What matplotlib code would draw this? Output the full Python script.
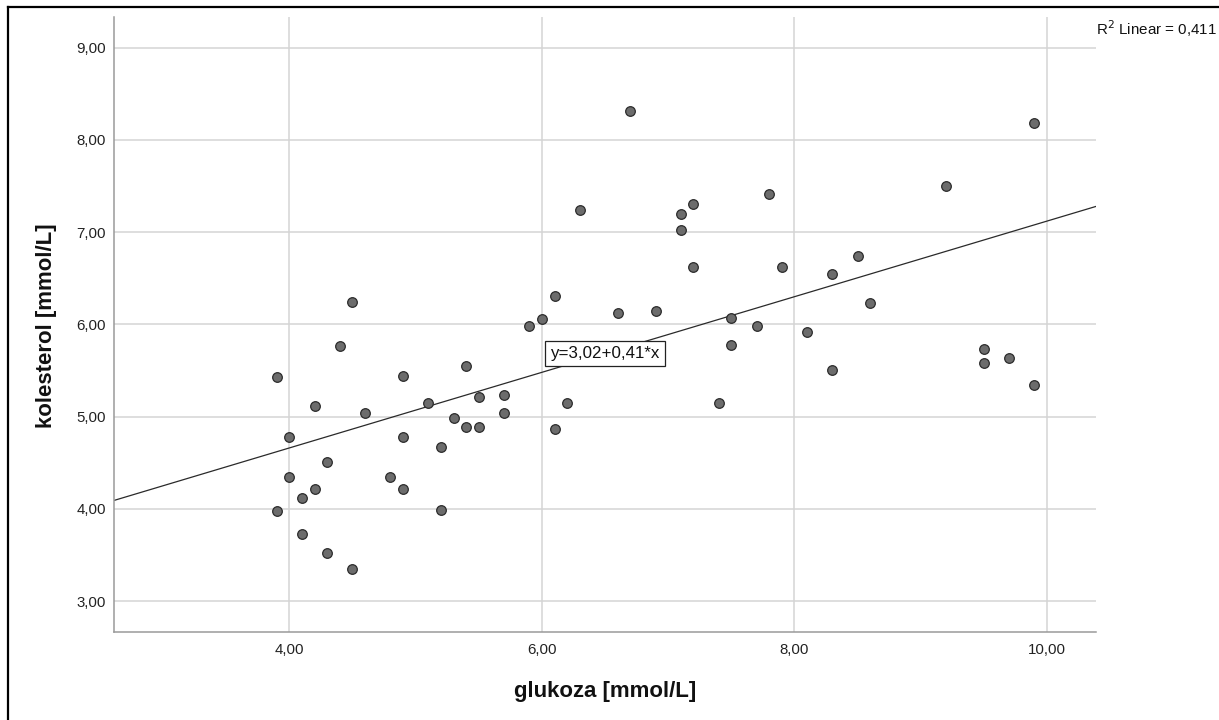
import numpy as np
import matplotlib
matplotlib.use("Agg")
import matplotlib.pyplot as plt
from matplotlib.lines import Line2D

plt.rcParams["font.family"] = ["Liberation Sans", "DejaVu Sans"]

# glukoza [mmol/L] and kolesterol [mmol/L]
glukoza = [3.9, 3.9, 4.0, 4.0, 4.1, 4.1, 4.2, 4.2, 4.3, 4.3,
           4.4, 4.5, 4.5, 4.6, 4.8, 4.9, 4.9, 4.9, 5.1, 5.2,
           5.2, 5.3, 5.4, 5.4, 5.5, 5.5, 5.7, 5.7, 5.9, 6.0,
           6.1, 6.1, 6.2, 6.3, 6.6, 6.7, 6.9, 7.1, 7.1, 7.2,
           7.2, 7.4, 7.5, 7.5, 7.7, 7.8, 7.9, 8.1, 8.3, 8.3,
           8.5, 8.6, 9.2, 9.5, 9.5, 9.7, 9.9, 9.9]
kolesterol = [5.43, 3.98, 4.78, 4.34, 4.12, 3.73, 5.11, 4.21, 4.51, 3.52,
              5.76, 6.24, 3.35, 5.04, 4.34, 5.44, 4.78, 4.21, 5.15, 4.67,
              3.99, 4.99, 5.55, 4.89, 5.21, 4.89, 5.23, 5.04, 5.98, 6.06,
              6.31, 4.87, 5.15, 7.24, 6.12, 8.31, 6.15, 7.20, 7.02, 7.31,
              6.62, 5.15, 6.07, 5.78, 5.98, 7.41, 6.62, 5.92, 6.55, 5.50,
              6.74, 6.23, 7.50, 5.73, 5.58, 5.64, 8.18, 5.34]

# linear fit reported by SPSS
intercept = 3.02
slope = 0.41
r2 = "0,411"

x_ticks = [4, 6, 8, 10]
x_tick_labels = ["4,00", "6,00", "8,00", "10,00"]
y_ticks = [3, 4, 5, 6, 7, 8, 9]
y_tick_labels = ["3,00", "4,00", "5,00", "6,00", "7,00", "8,00", "9,00"]

fig = plt.figure(figsize=(12.19, 7.2), dpi=100)
ax = fig.add_axes([0.0938, 0.1226, 0.8053, 0.8534])

xmin, xmax = 2.614, 10.388
ax.set_xlim(xmin, xmax)
ax.set_ylim(2.667, 9.33)

# Grid and axes lines
ax.grid(True, color="#d4d4d4", linewidth=1.1)
ax.set_axisbelow(True)
for side in ["top", "right"]:
    ax.spines[side].set_visible(False)
for side in ["left", "bottom"]:
    ax.spines[side].set_color("#9a9a9a")
    ax.spines[side].set_linewidth(1.1)

# Fit line
xf = np.array([xmin, xmax])
ax.plot(xf, intercept + slope * xf, color="#2a2a2a", linewidth=0.9, zorder=2)

# Points
ax.scatter(glukoza, kolesterol, s=48, facecolor="#6c6c6c", edgecolor="#2b2b2b",
           linewidth=0.9, zorder=3)

# Equation label on the line
x_eq = 6.5
ax.text(x_eq, intercept + slope * x_eq, "y=3,02+0,41*x", fontsize=12.2,
        ha="center", va="center", color="#111111", zorder=4,
        bbox=dict(boxstyle="square,pad=0.3", facecolor="white",
                  edgecolor="#222222", linewidth=0.9))

ax.set_xticks(x_ticks)
ax.set_xticklabels(x_tick_labels)
ax.set_yticks(y_ticks)
ax.set_yticklabels(y_tick_labels)
ax.tick_params(axis="both", length=0, labelsize=10.8, colors="#222222")
ax.tick_params(axis="x", pad=8)
ax.tick_params(axis="y", pad=6)

ax.set_xlabel("glukoza [mmol/L]", fontsize=16, fontweight="bold", color="#111111", va="center")
ax.xaxis.set_label_coords(0.5, -0.0977)
ax.set_ylabel("kolesterol [mmol/L]", fontsize=16, fontweight="bold", color="#111111", va="center")
ax.yaxis.set_label_coords(-0.0688, 0.498)

# R2 annotation at top right
fig.text(1096.5 / 1219, 1 - 29 / 720, "R$^2$ Linear = " + r2, fontsize=10.9,
         ha="left", va="center", color="#111111")

# Outer frame (left and top edges)
fig.add_artist(Line2D([7.5 / 1219, 7.5 / 1219], [0, 1 - 6.5 / 720],
                      transform=fig.transFigure, color="black", linewidth=1.6))
fig.add_artist(Line2D([7.5 / 1219, 1], [1 - 6.5 / 720, 1 - 6.5 / 720],
                      transform=fig.transFigure, color="black", linewidth=1.6))

fig.savefig("out.png", dpi=100)
